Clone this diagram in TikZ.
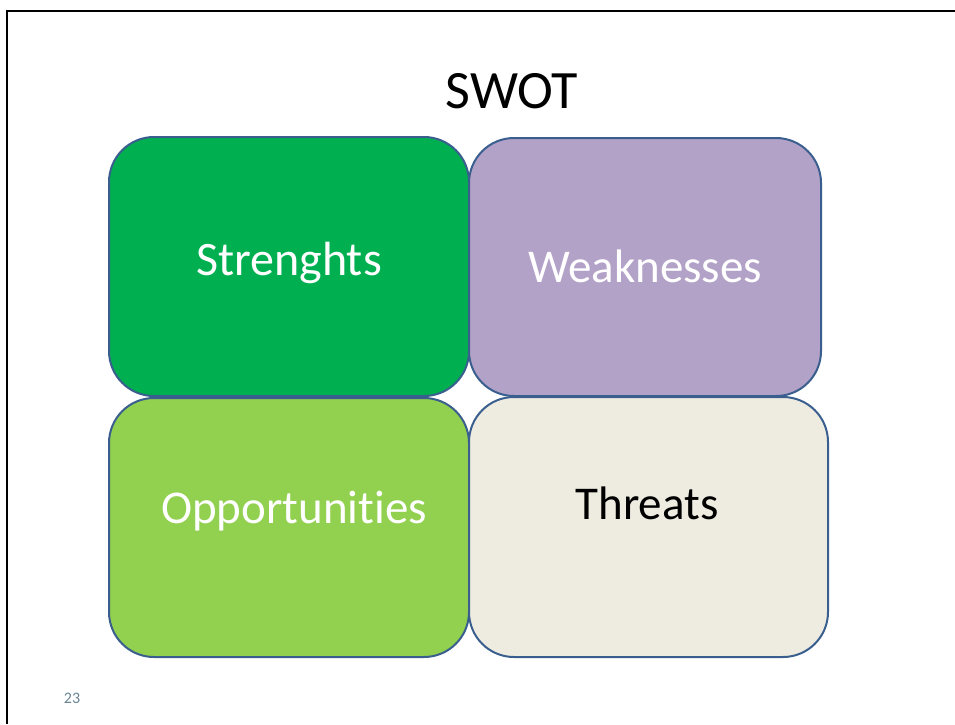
\documentclass[tikz,border=0pt]{standalone}
\usepackage{fontspec}
\setmainfont[Ligatures=NoCommon]{Carlito}
\usetikzlibrary{positioning}

\definecolor{swotS}{HTML}{00B050}
\definecolor{swotW}{HTML}{B3A2C7}
\definecolor{swotO}{HTML}{92D050}
\definecolor{swotT}{HTML}{EEECE1}
\definecolor{swotline}{HTML}{3A5F8F}
\definecolor{pagenum}{HTML}{6A8494}

\tikzset{
  quadrant/.style={draw=swotline, line width=2pt, rounded corners=45pt, inner sep=0pt},
  qtext/.style={anchor=base, inner sep=0pt, font=\fontsize{#1}{#1}\selectfont}
}

\begin{document}
\begin{tikzpicture}[x=1pt, y=-1pt]
\useasboundingbox (0,0) rectangle (955,724);
% slide frame
\draw[line width=2.5pt] (955,11) -- (7,11) -- (7,724);
\node[qtext=54] (title) at (512,108) {SWOT};
% the four quadrants
\draw[quadrant, fill=swotS] (109,137) rectangle (469,396);
\draw[quadrant, fill=swotW] (469,138) rectangle (821,396);
\draw[quadrant, fill=swotO] (109,398) rectangle (469,657);
\draw[quadrant, fill=swotT] (469,397) rectangle (828,657);
\node[qtext=48, text=white] (strengths) at (289,275) {Strenghts};
\node[qtext=47, text=white] (weaknesses) at (645,282) {Weaknesses};
\node[qtext=47, text=white] (opportunities) at (294,523) {Opportunities};
\node[qtext=47] (threats) at (647,519) {Threats};
\node[qtext=16, text=pagenum] (pageno) at (72,703) {23};
\end{tikzpicture}
\end{document}
